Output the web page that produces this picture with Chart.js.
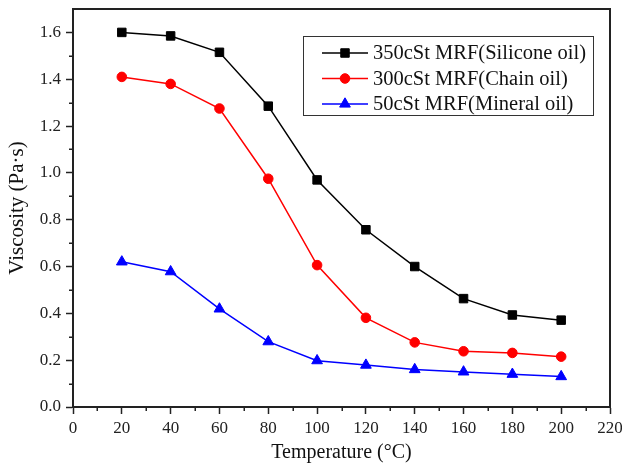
<!DOCTYPE html>
<html>
<head>
<meta charset="utf-8">
<script src="https://cdn.jsdelivr.net/npm/chart.js@4.4.1/dist/chart.umd.min.js"></script>
<style>
  html, body { margin: 0; padding: 0; background: #fff; }
</style>
</head>
<body>
<canvas id="myChart" width="622" height="466"></canvas>
<script>
const temps = [20, 40, 60, 80, 100, 120, 140, 160, 180, 200];
const silicone = [1.600, 1.585, 1.515, 1.285, 0.970, 0.757, 0.600, 0.463, 0.393, 0.371];
const chainOil = [1.410, 1.380, 1.275, 0.975, 0.606, 0.381, 0.276, 0.238, 0.231, 0.215];
const mineral = [0.620, 0.578, 0.419, 0.279, 0.198, 0.179, 0.160, 0.150, 0.140, 0.130];
const seriesNames = ['350cSt MRF(Silicone oil)', '300cSt MRF(Chain oil)', '50cSt MRF(Mineral oil)'];
const xTicks = [0, 20, 40, 60, 80, 100, 120, 140, 160, 180, 200, 220];
const xMinor = [10, 30, 50, 70, 90, 110, 130, 150, 170, 190, 210];
const yTicks = [0, 0.2, 0.4, 0.6, 0.8, 1.0, 1.2, 1.4, 1.6];
const yMinor = [0.1, 0.3, 0.5, 0.7, 0.9, 1.1, 1.3, 1.5];

const serif = 'Liberation Serif';
const axisColor = '#222';

function toPoints(values) {
  return values.map((v, i) => ({ x: temps[i], y: v }));
}

const styles = [
  { color: '#000000', pointStyle: 'rect', radius: 6 },
  { color: '#ff0000', pointStyle: 'circle', radius: 4.8 },
  { color: '#0000ff', pointStyle: 'triangle', radius: 6.2 }
];

const datasets = [silicone, chainOil, mineral].map((vals, i) => ({
  label: seriesNames[i],
  data: toPoints(vals),
  borderColor: styles[i].color,
  backgroundColor: styles[i].color,
  borderWidth: 1.5,
  pointStyle: styles[i].pointStyle,
  pointRadius: styles[i].radius,
  pointBorderWidth: 1,
  tension: 0
}));

// frame, minor ticks and the boxed legend inside the plot
const decorations = {
  id: 'decorations',
  beforeDatasetsDraw(chart) {
    const { ctx, chartArea, scales } = chart;
    ctx.save();
    ctx.strokeStyle = axisColor;
    ctx.lineWidth = 2;
    ctx.strokeRect(chartArea.left, chartArea.top, chartArea.right - chartArea.left, chartArea.bottom - chartArea.top);

    ctx.lineWidth = 1.5;
    ctx.beginPath();
    xMinor.forEach(v => {
      const px = Math.round(scales.x.getPixelForValue(v)) + 0.25;
      ctx.moveTo(px, chartArea.bottom);
      ctx.lineTo(px, chartArea.bottom + 4);
    });
    yMinor.forEach(v => {
      const py = Math.round(scales.y.getPixelForValue(v)) + 0.25;
      ctx.moveTo(chartArea.left, py);
      ctx.lineTo(chartArea.left - 4, py);
    });
    ctx.stroke();
    ctx.restore();
  },
  afterDraw(chart) {
    const { ctx } = chart;
    const box = { x: 303.5, y: 36.5, w: 290, h: 79 };
    ctx.save();
    ctx.strokeStyle = '#333';
    ctx.lineWidth = 1;
    ctx.strokeRect(box.x, box.y, box.w, box.h);

    chart.data.datasets.forEach((ds, i) => {
      const y = 53 + i * 25.5;
      ctx.strokeStyle = ds.borderColor;
      ctx.lineWidth = 1.5;
      ctx.beginPath();
      ctx.moveTo(322, y);
      ctx.lineTo(368, y);
      ctx.stroke();
      ctx.fillStyle = ds.backgroundColor;
      ctx.strokeStyle = ds.borderColor;
      ctx.lineWidth = 1;
      Chart.helpers.drawPoint(ctx, { pointStyle: ds.pointStyle, radius: ds.pointRadius, rotation: 0, borderWidth: 1 }, 345, y);
      ctx.fillStyle = '#111';
      ctx.font = '20.5px "' + serif + '"';
      ctx.textBaseline = 'middle';
      ctx.textAlign = 'left';
      ctx.fillText(ds.label, 373, y + 1);
    });
    ctx.restore();
  }
};

const config = {
  type: 'line',
  data: { datasets: datasets },
  options: {
    responsive: false,
    animation: false,
    devicePixelRatio: 1,
    layout: {
      padding: { left: 0, right: 12, top: 9, bottom: 0 }
    },
    plugins: {
      legend: { display: false },
      tooltip: { enabled: false }
    },
    scales: {
      x: {
        type: 'linear',
        min: 0,
        max: 220,
        afterBuildTicks: scale => { scale.ticks = xTicks.map(v => ({ value: v })); },
        afterFit: scale => {
          scale.height = 59;
          scale.paddingLeft = 0;
          scale.paddingRight = 0;
        },
        ticks: {
          color: '#222',
          padding: 4,
          maxRotation: 0,
          autoSkip: false,
          font: { family: serif, size: 17 },
          callback: v => String(v)
        },
        grid: {
          drawOnChartArea: false,
          drawTicks: true,
          tickLength: 7,
          tickColor: axisColor,
          tickWidth: 1.5
        },
        border: { display: true, color: axisColor, width: 2 },
        title: {
          display: true,
          text: 'Temperature (\u00B0C)',
          color: '#111',
          font: { family: serif, size: 20 },
          padding: { top: 0, bottom: 1 }
        }
      },
      y: {
        type: 'linear',
        min: 0,
        max: 1.7,
        afterBuildTicks: scale => { scale.ticks = yTicks.map(v => ({ value: v })); },
        afterFit: scale => {
          scale.width = 73;
          scale.paddingTop = 0;
          scale.paddingBottom = 0;
        },
        ticks: {
          color: '#222',
          padding: 5,
          font: { family: serif, size: 17 },
          callback: v => v.toFixed(1)
        },
        grid: {
          drawOnChartArea: false,
          drawTicks: true,
          tickLength: 7,
          tickColor: axisColor,
          tickWidth: 1.5
        },
        border: { display: true, color: axisColor, width: 2 },
        title: {
          display: true,
          text: 'Viscosity (Pa\u00B7s)',
          color: '#111',
          font: { family: serif, size: 21 },
          padding: { top: 5, bottom: 0 }
        }
      }
    }
  },
  plugins: [decorations]
};

const myChart = new Chart(document.getElementById('myChart'), config);
</script>
</body>
</html>
